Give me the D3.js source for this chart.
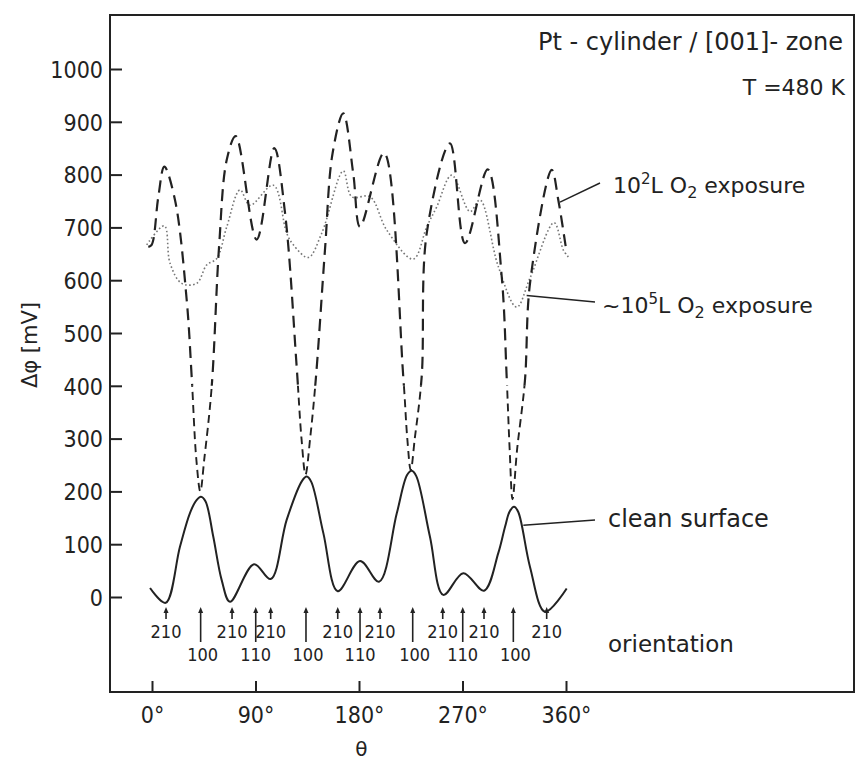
<!DOCTYPE html>
<html>
<head>
<meta charset="utf-8">
<script src="https://cdn.jsdelivr.net/npm/d3@7/dist/d3.min.js"></script>
<style>
  html, body { margin: 0; padding: 0; background: #fff; }
  svg { display: block; }
  .lbl { font-family: "DejaVu Sans", sans-serif; fill: #222; }
  .num { font-family: "DejaVu Sans Condensed", "DejaVu Sans", sans-serif; fill: #222; }
</style>
</head>
<body>
<svg id="chart" width="856" height="760"></svg>
<script>
// ---------------- data (theta in degrees, delta-phi in mV) ----------------
const thetaTicks = [0, 90, 180, 270, 360];
const mvTicks = [0, 100, 200, 300, 400, 500, 600, 700, 800, 900, 1000];

const cleanSurface = [
  [-1.7, 17], [11.9, -11], [24.3, 95], [33, 159], [38.6, 183], [42.6, 190], [46.6, 181],
  [53.3, 114], [60.6, 32], [67.8, -9], [88.7, 62], [103.2, 34], [117.1, 146],
  [130.5, 220], [134.5, 228], [138.5, 218], [149, 121], [161.5, 11], [180.9, 68],
  [197.4, 29], [212.8, 158], [221.8, 231], [225.8, 239], [229.8, 229], [241.7, 114],
  [253.3, 4], [270.7, 45], [288.7, 12], [301.1, 83], [307, 133], [311, 162],
  [314.8, 171], [318.5, 161], [328.7, 57], [341.7, -28], [360.6, 16]
];

const exposure1e2 = [
  [-3.2, 663], [-0.3, 667], [5.5, 758], [10.7, 815], [20, 752], [30.2, 562],
  [34.5, 417], [38.5, 262], [42, 200], [45.5, 262], [51.9, 398], [58.3, 663],
  [65, 828], [72.8, 873], [91, 677], [106.3, 850], [115.7, 727], [125.8, 436],
  [130, 300], [133.5, 232], [137.5, 300], [142.6, 417], [150.4, 657], [157, 840],
  [166.3, 916], [175, 802], [180.9, 701], [201.7, 841], [218.5, 417], [222, 300],
  [225, 240], [228.5, 300], [234.5, 417], [238.9, 689], [259.1, 859], [272.2, 670],
  [291.9, 810], [304.1, 607], [308.4, 417], [311, 280], [313.5, 185], [317.5, 280],
  [324.3, 410], [328.7, 594], [347.6, 809], [353.3, 752], [360.6, 651]
];

const exposure1e5 = [
  [-4.6, 667], [10.7, 703], [15.7, 632], [25.8, 594], [38.9, 594], [47.6, 629],
  [56.3, 641], [65, 701], [76.5, 771], [85.2, 742], [105.5, 780], [117.1, 689],
  [122.9, 667], [135.9, 643], [147.6, 689], [166.3, 807], [173.7, 758], [189.6, 758],
  [204.1, 695], [227.2, 640], [238.9, 701], [247.6, 739], [260.6, 799], [276.5, 730],
  [285.2, 752], [301.1, 626], [317.1, 549], [328.7, 604], [349.6, 709], [357.7, 657],
  [362, 644]
];

const orient210 = [12.2, 69.6, 103.2, 161.5, 198.3, 252.8, 288.7, 343.2];
const orient100 = [42.3, 133.9, 226.7, 314.2];
const orient110 = [90.2, 180.9, 270.2];

// annotation anchor points on curves (theta, mV) and their labels
const annotations = [
  { anchor: [354.8, 748], text: ["10", "2", "L O", "2", " exposure"], tilde: false },
  { anchor: [325.8, 571], text: ["10", "5", "L O", "2", " exposure"], tilde: true },
  { anchor: [322.9, 136], text: ["clean surface"], plain: true }
];

// ---------------- layout ----------------
const svg = d3.select("#chart");
const frame = { left: 110, top: 15, right: 854, bottom: 692 };

const x = d3.scaleLinear().domain([0, 360]).range([152, 566]);
const y = d3.scaleLinear().domain([0, 1000]).range([597, 69]);

const ink = "#222";

// frame
svg.append("rect")
  .attr("x", frame.left).attr("y", frame.top)
  .attr("width", frame.right - frame.left).attr("height", frame.bottom - frame.top)
  .attr("fill", "none").attr("stroke", ink).attr("stroke-width", 2);

// y axis (ticks pointing inward)
const yAxis = d3.axisRight(y).tickValues(mvTicks).tickSize(12).tickFormat("");
const yg = svg.append("g").attr("transform", `translate(${frame.left},0)`).call(yAxis);
yg.select(".domain").remove();
yg.selectAll(".tick line").attr("stroke", ink).attr("stroke-width", 2);
yg.selectAll(".tick").append("text")
  .attr("class", "num")
  .attr("x", -7).attr("dy", "0.36em")
  .attr("text-anchor", "end")
  .attr("font-size", 23)
  .attr("fill", ink)
  .text(d => d);

// x axis (ticks pointing inward)
const xAxis = d3.axisTop(x).tickValues(thetaTicks).tickSize(11).tickFormat("");
const xg = svg.append("g").attr("transform", `translate(0,${frame.bottom})`).call(xAxis);
xg.select(".domain").remove();
xg.selectAll(".tick line").attr("stroke", ink).attr("stroke-width", 2);
xg.selectAll(".tick").append("text")
  .attr("class", "num")
  .attr("y", 31)
  .attr("text-anchor", "middle")
  .attr("font-size", 23)
  .attr("fill", ink)
  .text(d => d + "°");

// axis titles
svg.append("text").attr("class", "lbl")
  .attr("transform", "translate(37,345) rotate(-90)")
  .attr("text-anchor", "middle").attr("font-size", 21)
  .text("Δφ [mV]");
svg.append("text").attr("class", "lbl")
  .attr("x", x(182)).attr("y", 756)
  .attr("text-anchor", "middle").attr("font-size", 20)
  .text("θ");

// ---------------- curves ----------------
const line = d3.line()
  .x(d => x(d[0])).y(d => y(d[1]))
  .curve(d3.curveCatmullRom.alpha(0.5));

const defs = svg.append("defs");
defs.append("clipPath").attr("id", "clipUpper").append("rect")
  .attr("x", 0).attr("y", 0).attr("width", 856).attr("height", y(400));
defs.append("clipPath").attr("id", "clipLower").append("rect")
  .attr("x", 0).attr("y", y(400)).attr("width", 856).attr("height", 760 - y(400));

// 10^5 L dotted
svg.append("path").datum(exposure1e5)
  .attr("d", line).attr("fill", "none")
  .attr("stroke", "#777").attr("stroke-width", 1.6)
  .attr("stroke-dasharray", "1.6,2.4");

// 10^2 L dashed: long dashes above 400 mV, short below
svg.append("path").datum(exposure1e2)
  .attr("d", line).attr("fill", "none")
  .attr("clip-path", "url(#clipUpper)")
  .attr("stroke", ink).attr("stroke-width", 2.2)
  .attr("stroke-dasharray", "12,7");
svg.append("path").datum(exposure1e2)
  .attr("d", line).attr("fill", "none")
  .attr("clip-path", "url(#clipLower)")
  .attr("stroke", ink).attr("stroke-width", 1.9)
  .attr("stroke-dasharray", "8,5");

// clean surface solid
svg.append("path").datum(cleanSurface)
  .attr("d", line).attr("fill", "none")
  .attr("stroke", ink).attr("stroke-width", 2);

// ---------------- orientation markers ----------------
function arrow(g, xpos, yTop, yBottom) {
  g.append("line").attr("x1", xpos).attr("x2", xpos)
    .attr("y1", yTop + 4).attr("y2", yBottom)
    .attr("stroke", ink).attr("stroke-width", 1.6);
  g.append("path")
    .attr("d", `M${xpos},${yTop} L${xpos - 2.5},${yTop + 6} L${xpos + 2.5},${yTop + 6} Z`)
    .attr("fill", ink);
}
const og = svg.append("g");
orient210.forEach(t => {
  arrow(og, x(t), 607, 619);
  og.append("text").attr("class", "num")
    .attr("x", x(t)).attr("y", 638).attr("text-anchor", "middle")
    .attr("font-size", 18).text("210");
});
orient100.forEach(t => {
  arrow(og, x(t), 607, 642);
  og.append("text").attr("class", "num")
    .attr("x", x(t) + 2).attr("y", 661).attr("text-anchor", "middle")
    .attr("font-size", 18).text("100");
});
orient110.forEach(t => {
  arrow(og, x(t), 607, 642);
  og.append("text").attr("class", "num")
    .attr("x", x(t)).attr("y", 661).attr("text-anchor", "middle")
    .attr("font-size", 18).text("110");
});

// ---------------- text labels ----------------
svg.append("text").attr("class", "lbl")
  .attr("x", 843).attr("y", 50).attr("text-anchor", "end").attr("font-size", 24)
  .text("Pt - cylinder / [001]- zone");
svg.append("text").attr("class", "lbl")
  .attr("x", 845).attr("y", 95).attr("text-anchor", "end").attr("font-size", 22)
  .text("T =480 K");
svg.append("text").attr("class", "lbl")
  .attr("x", 608).attr("y", 652).attr("font-size", 23)
  .text("orientation");

// annotated curve labels with leader lines
const labelPos = [
  { x1: 600, y1: 183, tx: 613, ty: 193 },
  { x1: 595, y1: 302, tx: 602, ty: 313 },
  { x1: 595, y1: 520, tx: 608, ty: 527 }
];
annotations.forEach((a, i) => {
  const p = labelPos[i];
  svg.append("line")
    .attr("x1", x(a.anchor[0])).attr("y1", y(a.anchor[1]))
    .attr("x2", p.x1).attr("y2", p.y1)
    .attr("stroke", ink).attr("stroke-width", 1.4);
  const t = svg.append("text").attr("class", "lbl")
    .attr("x", p.tx).attr("y", p.ty).attr("font-size", a.plain ? 24 : 22);
  if (a.plain) { t.text(a.text[0]); return; }
  if (a.tilde) t.append("tspan").text("~");
  t.append("tspan").text(a.text[0]);
  t.append("tspan").attr("dy", -9).attr("font-size", 15).text(a.text[1]);
  t.append("tspan").attr("dy", 9).text(a.text[2]);
  t.append("tspan").attr("dy", 5).attr("font-size", 16).text(a.text[3]);
  t.append("tspan").attr("dy", -5).text(a.text[4]);
});
</script>
</body>
</html>
